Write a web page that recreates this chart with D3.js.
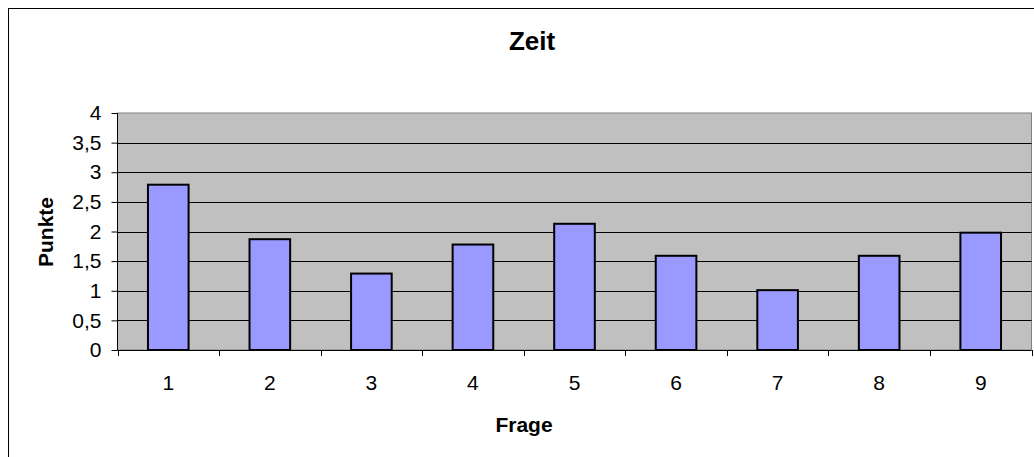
<!DOCTYPE html>
<html>
<head>
<meta charset="utf-8">
<script src="https://cdn.jsdelivr.net/npm/d3@7"></script>
<style>
  html, body { margin: 0; padding: 0; background: #fff; }
  svg { display: block; }
  text { font-family: Arial, "Liberation Sans", sans-serif; fill: #000; }
</style>
</head>
<body>
<svg id="chart" width="1034" height="457"></svg>
<script>
const categories = ["1", "2", "3", "4", "5", "6", "7", "8", "9"];
const values = [2.79, 1.87, 1.29, 1.78, 2.13, 1.59, 1.01, 1.59, 1.98];
const yTicks = [0, 0.5, 1, 1.5, 2, 2.5, 3, 3.5, 4];
const titleText = "Zeit";
const xTitle = "Frage";
const yTitle = "Punkte";

const svg = d3.select("#chart");
const plot = { left: 117.5, right: 1031.5, top: 113, bottom: 350 };
const FONT = "Arial, 'Liberation Sans', sans-serif";

// outer chart border (extends beyond the canvas on the right and bottom)
svg.append("rect")
  .attr("x", 8.5).attr("y", 8.5)
  .attr("width", 1100).attr("height", 500)
  .attr("fill", "#fff").attr("stroke", "#000").attr("stroke-width", 1);

const x = d3.scaleBand().domain(categories).range([plot.left, plot.right]).paddingInner(0).paddingOuter(0);
const y = d3.scaleLinear().domain([0, 4]).range([plot.bottom, plot.top]);

// plot background
svg.append("rect")
  .attr("x", plot.left).attr("y", plot.top)
  .attr("width", plot.right - plot.left).attr("height", plot.bottom - plot.top)
  .attr("fill", "#C0C0C0").attr("stroke", "#808080").attr("stroke-width", 1);

// gridlines
svg.append("g").selectAll("line").data(yTicks.filter(d => d > 0 && d < 4)).join("line")
  .attr("x1", plot.left).attr("x2", plot.right)
  .attr("y1", d => Math.round(y(d)) + 0.5).attr("y2", d => Math.round(y(d)) + 0.5)
  .attr("stroke", "#000").attr("stroke-width", 1);

// bars
const bw = x.bandwidth() / 2.5;
svg.append("g").selectAll("rect").data(values).join("rect")
  .attr("x", (d, i) => x(categories[i]) + x.bandwidth() / 2 - bw / 2)
  .attr("y", d => y(d))
  .attr("width", bw)
  .attr("height", d => y(0) - y(d))
  .attr("fill", "#9999FF").attr("stroke", "#000").attr("stroke-width", 2);

// y axis
const yAxis = d3.axisLeft(y).tickValues(yTicks).tickSize(6).tickPadding(10)
  .tickFormat(d => String(d).replace(".", ","));
const gy = svg.append("g").attr("transform", `translate(${plot.left},0)`).call(yAxis)
  .attr("font-size", null).attr("font-family", null);
gy.select(".domain").attr("stroke", "#000").attr("d", `M0,${plot.top}V${plot.bottom}`);
gy.selectAll(".tick line").attr("stroke", "#000");
gy.selectAll(".tick text").attr("font-size", 21).attr("font-family", FONT).attr("fill", "#000");

// x axis with ticks at category boundaries
const xAxis = d3.axisBottom(x).tickSize(0).tickPadding(25);
const gx = svg.append("g").attr("transform", `translate(0,${plot.bottom})`).call(xAxis)
  .attr("font-size", null).attr("font-family", null);
gx.select(".domain").attr("stroke", "#000").attr("d", `M${plot.left},0.5H${plot.right}`);
gx.selectAll(".tick text").attr("font-size", 21).attr("font-family", FONT).attr("fill", "#000");
const boundaries = categories.map(c => x(c)).concat([plot.right]);
gx.append("g").selectAll("line").data(boundaries).join("line")
  .attr("x1", d => Math.round(d) + 0.5).attr("x2", d => Math.round(d) + 0.5)
  .attr("y1", 0).attr("y2", 6).attr("stroke", "#000");

// titles
svg.append("text").attr("x", 532).attr("y", 50).attr("text-anchor", "middle")
  .attr("font-size", 26).attr("font-weight", "bold").attr("font-family", FONT).text(titleText);
svg.append("text").attr("x", 524).attr("y", 432).attr("text-anchor", "middle")
  .attr("font-size", 21).attr("font-weight", "bold").attr("font-family", FONT).text(xTitle);
svg.append("text").attr("transform", "translate(53,232) rotate(-90)").attr("text-anchor", "middle")
  .attr("font-size", 21).attr("font-weight", "bold").attr("font-family", FONT).text(yTitle);
</script>
</body>
</html>
